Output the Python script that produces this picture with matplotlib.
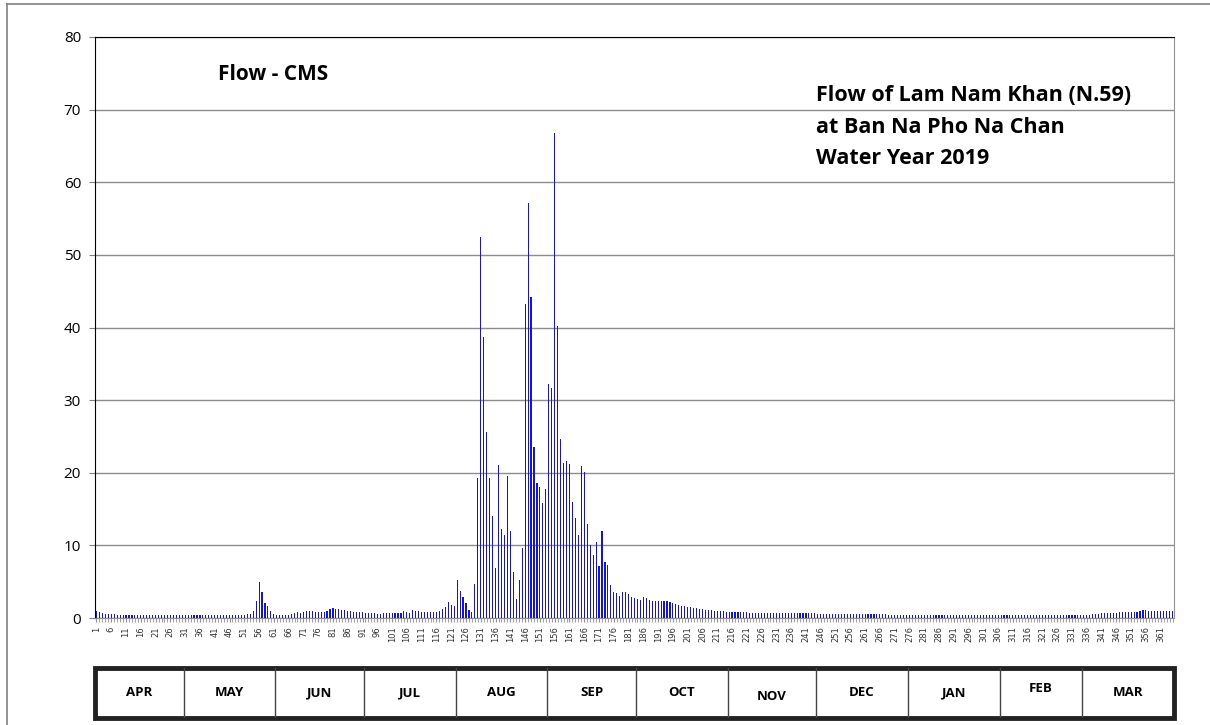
import matplotlib
matplotlib.use("Agg")
import matplotlib.pyplot as plt
from matplotlib.lines import Line2D
from matplotlib.patches import Rectangle
import numpy as np

plt.rcParams["font.family"] = ["Open Sans", "DejaVu Sans"]

# daily flow (CMS), water year 2019, day 1 = 1 April
flow = [
    0.95, 0.8, 0.65, 0.55, 0.55, 0.5, 0.5, 0.45, 0.45, 0.45,
    0.45, 0.45, 0.42, 0.42, 0.42, 0.42, 0.42, 0.42, 0.42, 0.42,
    0.42, 0.42, 0.42, 0.42, 0.42, 0.42, 0.42, 0.42, 0.42, 0.42,
    0.42, 0.4, 0.4, 0.4, 0.4, 0.4, 0.4, 0.4, 0.4, 0.4,
    0.4, 0.4, 0.4, 0.4, 0.4, 0.4, 0.42, 0.42, 0.42, 0.45,
    0.45, 0.5, 0.55, 0.95, 2.3, 5.0, 3.6, 2.1, 1.6, 1.0,
    0.6, 0.45, 0.45, 0.45, 0.45, 0.45, 0.55, 0.7, 0.8, 0.75,
    0.8, 0.9, 0.95, 0.9, 0.85, 0.85, 0.85, 0.85, 1.0, 1.3,
    1.4, 1.3, 1.2, 1.1, 1.05, 0.95, 0.9, 0.85, 0.85, 0.8,
    0.8, 0.75, 0.7, 0.65, 0.65, 0.6, 0.6, 0.65, 0.7, 0.7,
    0.75, 0.75, 0.7, 0.65, 0.9, 0.8, 0.75, 1.05, 0.95, 0.9,
    0.85, 0.8, 0.8, 0.85, 0.85, 0.85, 0.9, 1.2, 1.45, 2.15,
    1.85, 1.6, 5.3, 3.75, 2.85, 2.05, 1.1, 0.8, 4.7, 19.25,
    52.5, 38.65, 25.6, 19.25, 14.1, 6.95, 21.0, 12.2, 11.4, 19.6,
    12.0, 6.35, 2.65, 5.2, 9.6, 43.3, 57.1, 44.2, 23.5, 18.6,
    18.1, 15.8, 17.7, 32.2, 31.7, 66.8, 40.2, 24.6, 21.4, 21.6,
    21.2, 16.0, 13.8, 11.4, 20.9, 20.1, 12.9, 10.0, 8.65, 10.4,
    7.15, 12.0, 7.7, 7.3, 4.6, 3.6, 3.4, 3.0, 3.6, 3.6,
    3.3, 2.95, 2.75, 2.6, 2.5, 2.95, 2.7, 2.5, 2.4, 2.4,
    2.4, 2.4, 2.35, 2.3, 2.2, 2.05, 1.9, 1.8, 1.7, 1.6,
    1.55, 1.45, 1.4, 1.35, 1.3, 1.2, 1.15, 1.1, 1.05, 1.0,
    0.96, 0.92, 0.9, 0.87, 0.84, 0.82, 0.8, 0.8, 0.78, 0.78,
    0.76, 0.75, 0.74, 0.73, 0.73, 0.72, 0.72, 0.72, 0.71, 0.71,
    0.7, 0.7, 0.7, 0.69, 0.68, 0.67, 0.66, 0.65, 0.64, 0.64,
    0.63, 0.63, 0.62, 0.62, 0.61, 0.61, 0.6, 0.6, 0.6, 0.6,
    0.6, 0.6, 0.59, 0.58, 0.57, 0.57, 0.56, 0.56, 0.55, 0.55,
    0.53, 0.52, 0.5, 0.5, 0.5, 0.5, 0.49, 0.49, 0.48, 0.48,
    0.48, 0.47, 0.47, 0.47, 0.47, 0.47, 0.46, 0.46, 0.46, 0.46,
    0.46, 0.45, 0.45, 0.45, 0.45, 0.45, 0.45, 0.45, 0.44, 0.44,
    0.43, 0.42, 0.42, 0.42, 0.42, 0.42, 0.42, 0.42, 0.42, 0.42,
    0.41, 0.41, 0.41, 0.41, 0.41, 0.41, 0.41, 0.41, 0.41, 0.41,
    0.41, 0.4, 0.4, 0.4, 0.4, 0.4, 0.4, 0.4, 0.4, 0.4,
    0.4, 0.4, 0.4, 0.4, 0.4, 0.4, 0.4, 0.4, 0.4, 0.4,
    0.4, 0.4, 0.4, 0.4, 0.42, 0.45, 0.48, 0.52, 0.55, 0.6,
    0.64, 0.66, 0.7, 0.72, 0.73, 0.74, 0.77, 0.78, 0.78, 0.78,
    0.78, 0.78, 0.8, 0.96, 1.1, 1.15, 1.0, 0.97, 0.95, 0.95,
    0.95, 0.95, 0.95, 0.95, 0.95,
]
days = np.arange(1, len(flow) + 1)

months = ["APR", "MAY", "JUN", "JUL", "AUG", "SEP",
          "OCT", "NOV", "DEC", "JAN", "FEB", "MAR"]
month_days = [30, 31, 30, 31, 31, 30, 31, 30, 31, 31, 28, 31]

title_lines = ["Flow of Lam Nam Khan (N.59)",
               "at Ban Na Pho Na Chan",
               "Water Year 2019"]

fig = plt.figure(figsize=(12.1, 7.25), dpi=100)
W, H = 1210, 725

# outer frame (top and left edges visible)
fig.add_artist(Line2D([7 / W, 1.0], [1 - 4 / H, 1 - 4 / H], color="#808080", lw=1.2))
fig.add_artist(Line2D([7 / W, 7 / W], [0, 1 - 4 / H], color="#808080", lw=1.2))

ax = fig.add_axes([95 / W, 1 - 618 / H, (1174 - 95) / W, (618 - 37) / H])
ax.bar(days, flow, width=0.38, color="#1414d2", linewidth=0, zorder=3)
ax.set_xlim(0.5, len(flow) + 0.5)
ax.set_ylim(0, 80)
ax.set_yticks(np.arange(0, 81, 10))
ax.yaxis.grid(True, color="#8c8c8c", lw=1.0, zorder=0)
ax.tick_params(axis="y", labelsize=11, length=4, color="#808080", pad=6)

ax.set_xticks(days, minor=True)
ax.set_xticks(days[::5])
ax.set_xticklabels([str(d) for d in days[::5]], rotation=90, fontsize=6,
                   family="DejaVu Sans", color="#333333")
ax.tick_params(axis="x", which="both", length=3, color="#909090", pad=3)
ax.spines["left"].set_color("black")
ax.spines["top"].set_color("black")
ax.spines["right"].set_color("#909090")
ax.spines["bottom"].set_color("#909090")

ax.text(0.114, 0.935, "Flow - CMS", transform=ax.transAxes, fontsize=15,
        fontweight="bold", va="center", ha="left")
for i, line in enumerate(title_lines):
    ax.text(0.668, 0.899 - i * 0.054, line, transform=ax.transAxes, fontsize=15.5,
            fontweight="bold", va="center", ha="left")

# month table below the axis
tab = fig.add_axes([95 / W, 1 - 718 / H, (1174 - 95) / W, 50 / H])
tab.set_xlim(0.5, len(flow) + 0.5)
tab.set_ylim(0, 1)
tab.axis("off")
edges = np.concatenate([[0], np.cumsum(month_days)]) + 0.5
tab.add_patch(Rectangle((edges[0], 0), edges[-1] - edges[0], 1, fill=False,
                        lw=3.5, edgecolor="#222222", clip_on=False))
for e in edges[1:-1]:
    tab.plot([e, e], [0, 1], color="#444444", lw=1.0)
for i, m in enumerate(months):
    dy = -0.06 if m == "NOV" else (0.08 if m == "FEB" else 0)
    tab.text((edges[i] + edges[i + 1]) / 2, 0.5 + dy, m, ha="center", va="center",
             fontsize=9.5, fontweight="bold")

fig.savefig("out.png", dpi=100)
